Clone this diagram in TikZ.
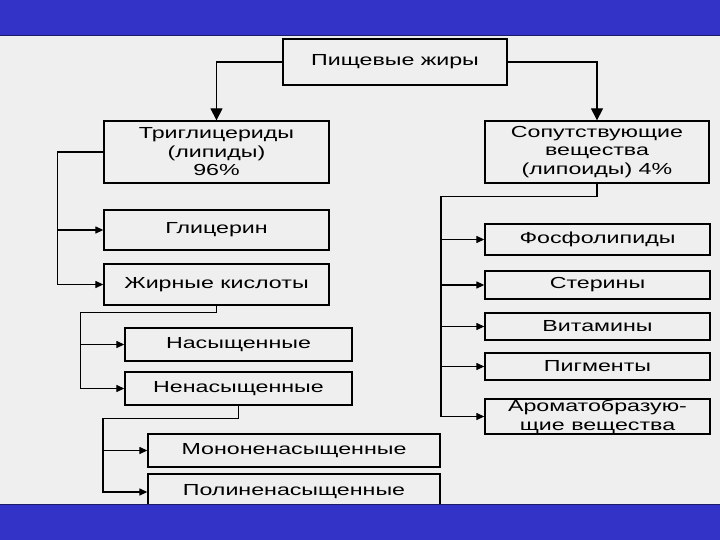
\documentclass[tikz,border=0pt]{standalone}
\usepackage{fontspec}
\setmainfont{Liberation Sans}[FakeStretch=1.45]
\usetikzlibrary{arrows.meta}

\definecolor{bgcol}{HTML}{EFEFEF}
\definecolor{bandcol}{HTML}{3333C8}
\definecolor{banddark}{HTML}{1C1C66}

\begin{document}
\begin{tikzpicture}[x=1pt,y=-1pt,
    box/.style={draw,line width=1.3pt,fill=bgcol,align=center,inner sep=0pt,
                font=\fontsize{16}{18.5}\selectfont},
    link/.style={line width=1.2pt,-{Triangle[length=8pt,width=7pt]}},
    mainlink/.style={line width=1.2pt,-{Triangle[length=12pt,width=12pt]}}]
    \useasboundingbox (0,0) rectangle (720,540);
    \fill[bgcol] (0,0) rectangle (720,540);

    \node[box,minimum width=224pt,minimum height=46pt] (fats) at (395,62) {Пищевые жиры};
    \node[box,minimum width=225pt,minimum height=62pt] (tri) at (216.5,152) {Триглицериды\\(липиды)\\96\%};
    \node[box,minimum width=224pt,minimum height=62pt] (sop) at (597,152) {Сопутствующие\\вещества\\(липоиды) 4\%};
    \node[box,minimum width=225pt,minimum height=40pt] (gli) at (216.5,230) {Глицерин};
    \node[box,minimum width=225pt,minimum height=41pt] (acids) at (216.5,284.5) {Жирные кислоты};
    \node[box,minimum width=227pt,minimum height=33pt] (sat) at (238.5,344.5) {Насыщенные};
    \node[box,minimum width=227pt,minimum height=33pt] (unsat) at (238.5,388.5) {Ненасыщенные};
    \node[box,minimum width=292pt,minimum height=33pt] (mono) at (294,450.5) {Мононенасыщенные};
    \node[box,minimum width=292pt,minimum height=36pt] (poly) at (294,492) {Полиненасыщенные};
    \node[box,minimum width=225pt,minimum height=31pt] (phos) at (597.5,239.5) {Фосфолипиды};
    \node[box,minimum width=225pt,minimum height=28pt] (ster) at (597.5,285) {Стерины};
    \node[box,minimum width=225pt,minimum height=27pt] (vit) at (597.5,326.5) {Витамины};
    \node[box,minimum width=225pt,minimum height=27pt] (pig) at (597.5,366.5) {Пигменты};
    \node[box,minimum width=225pt,minimum height=35pt] (arom) at (597.5,416.5) {Ароматобразую-\\щие вещества};

    % top level
    \draw[mainlink] (fats.west) -| (tri.north);
    \draw[mainlink] (fats.east) -| (sop.north);

    % triglycerides
    \draw[link] (tri.west) -- ++(-46,0) coordinate (triL) |- (gli.west);
    \draw[link] (triL) |- (acids.west);

    % fatty acids
    \draw[link] (acids.south) |- ++(-136,7) coordinate (acL) |- (sat.west);
    \draw[link] (acL) |- (unsat.west);

    % unsaturated
    \draw[link] (unsat.south) |- ++(-135.5,12.5) coordinate (unL) |- (mono.west);
    \draw[link] (unL) |- (poly.west);

    % lipoids
    \draw[link] (sop.south) |- ++(-156,13) coordinate (sopL) |- (phos.west);
    \draw[link] (sopL) |- (ster.west);
    \draw[link] (sopL) |- (vit.west);
    \draw[link] (sopL) |- (pig.west);
    \draw[link] (sopL) |- (arom.west);

    % bands
    \fill[bandcol] (0,0) rectangle (720,36);
    \draw[banddark,line width=1.5pt] (0,35.5) -- (720,35.5);
    \fill[bandcol] (0,504) rectangle (720,540);
    \draw[banddark,line width=1.5pt] (0,504.5) -- (720,504.5);
\end{tikzpicture}
\end{document}
